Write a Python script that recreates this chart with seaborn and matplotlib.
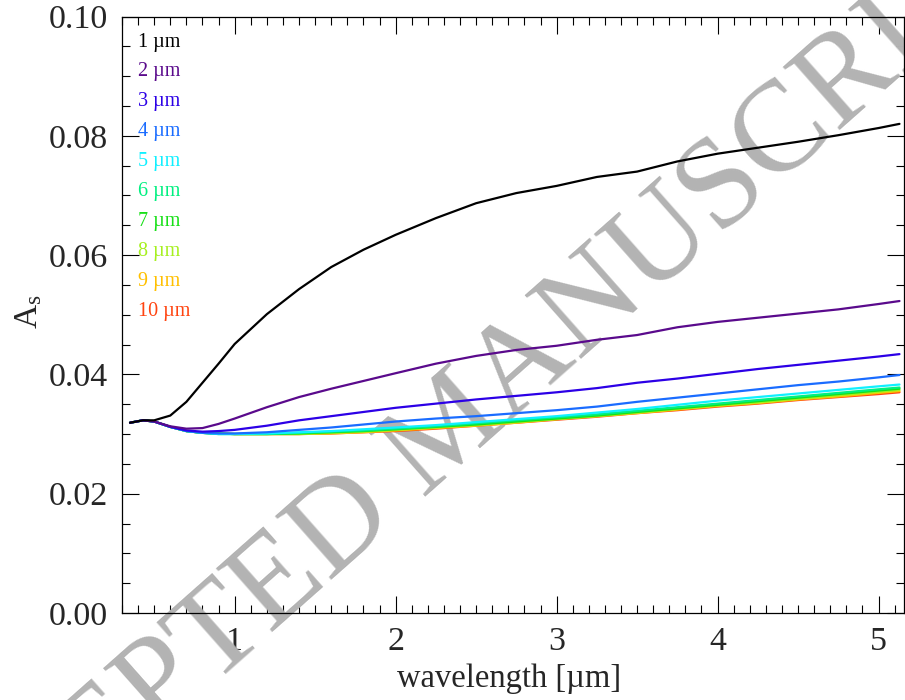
import numpy as np
import pandas as pd
import matplotlib
matplotlib.use("Agg")
import matplotlib.pyplot as plt
import seaborn as sns
from matplotlib.ticker import MultipleLocator

# ---------------- data ----------------
wavelength = [0.35, 0.43, 0.5, 0.6, 0.7, 0.8, 0.9, 1.0, 1.2, 1.4, 1.6, 1.8, 2.0,
              2.25, 2.5, 2.75, 3.0, 3.25, 3.5, 3.75, 4.0, 4.25, 4.5, 4.75, 5.0, 5.13]

s1 = [0.0319, 0.0323, 0.0323, 0.0331, 0.0354, 0.0386, 0.0418, 0.0451, 0.0501, 0.0543,
      0.0580, 0.0609, 0.0634, 0.0662, 0.0687, 0.0704, 0.0716, 0.0731, 0.0740, 0.0757,
      0.0770, 0.0780, 0.0790, 0.0801, 0.0813, 0.0820]
s2 = [0.0319, 0.0323, 0.0321, 0.0313, 0.0309, 0.0310, 0.0317, 0.0326, 0.0345, 0.0362,
      0.0376, 0.0389, 0.0402, 0.0418, 0.0431, 0.0441, 0.0448, 0.0458, 0.0466, 0.0479,
      0.0488, 0.0495, 0.0502, 0.0509, 0.0518, 0.0523]
s3 = [0.0319, 0.0323, 0.0321, 0.0312, 0.0306, 0.0304, 0.0305, 0.0307, 0.0314, 0.0323,
      0.0330, 0.0337, 0.0344, 0.0351, 0.0358, 0.0364, 0.0370, 0.0377, 0.0386, 0.0393,
      0.0401, 0.0409, 0.0416, 0.0423, 0.0430, 0.0434]
s4 = [0.0319, 0.0323, 0.0321, 0.0312, 0.0305, 0.0302, 0.0301, 0.0301, 0.0303, 0.0307,
      0.0311, 0.0316, 0.0321, 0.0326, 0.0330, 0.0335, 0.0340, 0.0346, 0.0354, 0.0361,
      0.0368, 0.0375, 0.0382, 0.0388, 0.0395, 0.0399]
s5 = [0.0319, 0.0323, 0.0321, 0.0312, 0.0305, 0.0302, 0.0300, 0.0300, 0.0301, 0.0303,
      0.0305, 0.0308, 0.0311, 0.0315, 0.0320, 0.0325, 0.0330, 0.0336, 0.0342, 0.0349,
      0.0356, 0.0362, 0.0368, 0.0374, 0.0380, 0.0383]
s6 = [0.0319, 0.0323, 0.0321, 0.0312, 0.0305, 0.0302, 0.0300, 0.0300, 0.0300, 0.0302,
      0.0304, 0.0306, 0.0309, 0.0313, 0.0318, 0.0323, 0.0328, 0.0333, 0.0339, 0.0345,
      0.0351, 0.0357, 0.0363, 0.0369, 0.0375, 0.0378]
s7 = [0.0319, 0.0323, 0.0321, 0.0312, 0.0305, 0.0302, 0.0301, 0.0300, 0.0300, 0.0301,
      0.0303, 0.0305, 0.0308, 0.0312, 0.0316, 0.0321, 0.0326, 0.0331, 0.0337, 0.0343,
      0.0349, 0.0355, 0.0361, 0.0367, 0.0373, 0.0376]
s8 = [0.0319, 0.0323, 0.0321, 0.0312, 0.0305, 0.0302, 0.0301, 0.0300, 0.0300, 0.0300,
      0.0302, 0.0304, 0.0307, 0.0311, 0.0315, 0.0320, 0.0325, 0.0330, 0.0336, 0.0342,
      0.0348, 0.0353, 0.0359, 0.0365, 0.0371, 0.0374]
s9 = [0.0319, 0.0323, 0.0321, 0.0312, 0.0305, 0.0302, 0.0301, 0.0300, 0.0300, 0.0300,
      0.0301, 0.0303, 0.0306, 0.0310, 0.0314, 0.0319, 0.0325, 0.0330, 0.0335, 0.0341,
      0.0347, 0.0352, 0.0358, 0.0363, 0.0369, 0.0372]
s10 = [0.0319, 0.0323, 0.0321, 0.0312, 0.0305, 0.0302, 0.0301, 0.0300, 0.0300, 0.0300,
       0.0301, 0.0303, 0.0305, 0.0309, 0.0314, 0.0319, 0.0324, 0.0329, 0.0335, 0.0340,
       0.0346, 0.0351, 0.0357, 0.0362, 0.0367, 0.0370]

series = [s1, s2, s3, s4, s5, s6, s7, s8, s9, s10]
labels = ["1 µm", "2 µm", "3 µm", "4 µm", "5 µm", "6 µm", "7 µm", "8 µm", "9 µm", "10 µm"]
colors = ["#000000", "#5a0a8c", "#2c00e6", "#1a6cff", "#10f0ff", "#00f080",
          "#18e018", "#a6f020", "#ffc000", "#ff4410"]

xticks = [1, 2, 3, 4, 5]
yticks = [0.00, 0.02, 0.04, 0.06, 0.08, 0.10]

# ---------------- plot ----------------
rows = []
for lab, vals in zip(labels, series):
    for w, v in zip(wavelength, vals):
        rows.append({"wavelength": w, "As": v, "size": lab})
df = pd.DataFrame(rows)

sns.set_theme(style="ticks")
plt.rcParams["font.family"] = ["Liberation Serif", "DejaVu Serif"]
plt.rcParams["mathtext.fontset"] = "custom"
plt.rcParams["mathtext.rm"] = "Liberation Serif"
plt.rcParams["mathtext.it"] = "Liberation Serif"

fig = plt.figure(figsize=(9.05, 7.0), dpi=100)
ax = fig.add_axes([122 / 905, 1 - 613 / 700, (903.5 - 122) / 905, (613 - 16.5) / 700])

# watermark
ax.text(452 / 905, 1 - 432 / 700, "ACCEPTED MANUSCRIPT", transform=fig.transFigure,
        rotation=41.5, rotation_mode="anchor", ha="center", va="center",
        fontsize=93, color="#b3b3b3", zorder=1, clip_on=False)

sns.lineplot(data=df, x="wavelength", y="As", hue="size", hue_order=labels[::-1],
             palette=dict(zip(labels, colors)), legend=False, ax=ax,
             linewidth=1.6, zorder=3, sort=False, estimator=None)

ax.set_xlim(0.30, 5.155)
ax.set_ylim(0.0, 0.1)
ax.set_xticks(xticks)
ax.set_xticklabels([str(t) for t in xticks])
ax.set_yticks(yticks)
ax.set_yticklabels([f"{t:.2f}" for t in yticks])
ax.xaxis.set_minor_locator(MultipleLocator(0.1))
ax.yaxis.set_minor_locator(MultipleLocator(0.005))
ax.tick_params(which="both", direction="in", top=True, right=True, width=0.8,
               color="black", labelsize=24.5)
ax.tick_params(axis="x", pad=10)
ax.tick_params(axis="y", pad=10)
ax.tick_params(which="major", length=12)
ax.tick_params(which="minor", length=6)
for sp in ax.spines.values():
    sp.set_linewidth(0.9)
    sp.set_color("black")

ax.set_xlabel("wavelength [µm]", fontsize=23.5)
ax.xaxis.set_label_coords(0.4955, (613 - 664) / 596.5)
ax.set_ylabel(r"A$_\mathrm{s}$", fontsize=24)
ax.yaxis.set_label_coords((44 - 122) / 781.5, (613 - 312) / 596.5)

# legend as coloured text
for i, (lab, col) in enumerate(zip(labels, colors)):
    ybase = 46.5 + i * 29.9
    ax.text(138 / 905, 1 - ybase / 700, lab, transform=fig.transFigure, color=col,
            fontsize=14.5, ha="left", va="baseline", zorder=4)

fig.savefig("out.png", dpi=100)
